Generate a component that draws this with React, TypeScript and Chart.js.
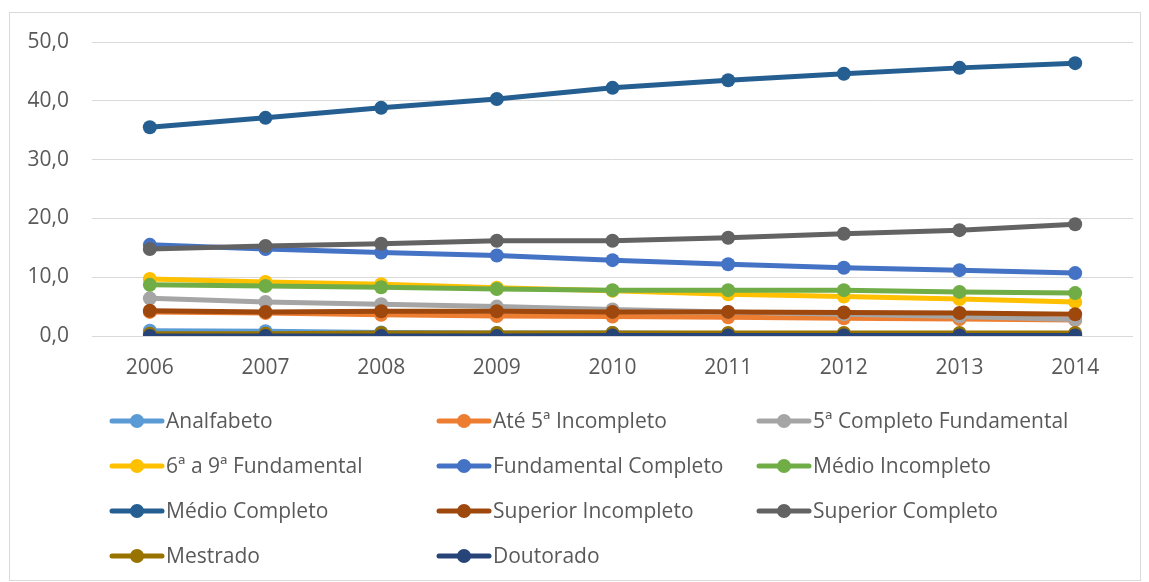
import React, { useEffect, useRef } from "react";
import { Chart, registerables } from "chart.js";

Chart.register(...registerables);

const years = ["2006", "2007", "2008", "2009", "2010", "2011", "2012", "2013", "2014"];

const analfabeto = [0.9, 0.8, 0.6, 0.5, 0.5, 0.4, 0.4, 0.4, 0.3];
const ate5Incompleto = [4.1, 3.9, 3.6, 3.4, 3.3, 3.2, 3.0, 2.9, 2.7];
const quintaCompleto = [6.4, 5.8, 5.4, 5.0, 4.5, 4.1, 3.7, 3.3, 2.8];
const sextaNona = [9.7, 9.2, 8.8, 8.2, 7.7, 7.1, 6.7, 6.3, 5.8];
const fundamentalCompleto = [15.5, 14.8, 14.2, 13.7, 12.9, 12.2, 11.6, 11.2, 10.7];
const medioIncompleto = [8.7, 8.5, 8.3, 8.0, 7.8, 7.8, 7.8, 7.5, 7.3];
const medioCompleto = [35.5, 37.1, 38.8, 40.3, 42.2, 43.5, 44.6, 45.6, 46.4];
const superiorIncompleto = [4.3, 4.1, 4.2, 4.2, 4.1, 4.1, 4.0, 3.9, 3.7];
const superiorCompleto = [14.8, 15.3, 15.7, 16.2, 16.2, 16.7, 17.4, 18.0, 19.0];
const mestrado = [0.4, 0.4, 0.5, 0.5, 0.5, 0.5, 0.5, 0.5, 0.5];
const doutorado = [0.0, 0.0, 0.0, 0.0, 0.1, 0.1, 0.1, 0.1, 0.1];

const seriesNames = [
  "Analfabeto",
  "Até 5ª Incompleto",
  "5ª Completo Fundamental",
  "6ª a 9ª Fundamental",
  "Fundamental Completo",
  "Médio Incompleto",
  "Médio Completo",
  "Superior Incompleto",
  "Superior Completo",
  "Mestrado",
  "Doutorado",
];
const seriesValues = [
  analfabeto,
  ate5Incompleto,
  quintaCompleto,
  sextaNona,
  fundamentalCompleto,
  medioIncompleto,
  medioCompleto,
  superiorIncompleto,
  superiorCompleto,
  mestrado,
  doutorado,
];
const seriesColors = [
  "#5B9BD5",
  "#ED7D31",
  "#A5A5A5",
  "#FFC000",
  "#4472C4",
  "#70AD47",
  "#255E91",
  "#9E480E",
  "#636363",
  "#997300",
  "#264478",
];

const FONT = "'Open Sans', Lato, sans-serif";
const TEXT = "#595959";

const legendPlugin = {
  id: "gridLegend",
  afterDraw(chart: any) {
    const ctx = chart.ctx;
    const colX = [100, 427, 747];
    const rowY = [408, 453, 498, 543];
    ctx.save();
    ctx.font = `21px ${FONT}`;
    ctx.textBaseline = "middle";
    ctx.textAlign = "left";
    chart.data.datasets.forEach((ds: any, i: number) => {
      const col = i % 3;
      const row = Math.floor(i / 3);
      const x = colX[col];
      const y = rowY[row];
      ctx.strokeStyle = ds.borderColor;
      ctx.lineWidth = 5;
      ctx.lineCap = "round";
      ctx.beginPath();
      ctx.moveTo(x + 2, y);
      ctx.lineTo(x + 52, y);
      ctx.stroke();
      ctx.fillStyle = ds.borderColor;
      ctx.beginPath();
      ctx.arc(x + 27, y, 7, 0, Math.PI * 2);
      ctx.fill();
      ctx.fillStyle = TEXT;
      ctx.fillText(ds.label, x + 56, y + 1);
    });
    ctx.restore();
  },
};

export default function App() {
  const ref = useRef<HTMLCanvasElement | null>(null);
  useEffect(() => {
    if (!ref.current) return;
    const chart = new Chart(ref.current, {
      type: "line",
      data: {
        labels: years,
        datasets: seriesNames.map((name, i) => ({
          label: name,
          data: seriesValues[i],
          borderColor: seriesColors[i],
          backgroundColor: seriesColors[i],
          borderWidth: 5,
          pointRadius: 7,
          pointHoverRadius: 7,
          pointBorderWidth: 0,
          tension: 0,
          order: seriesNames.length - i,
        })),
      },
      options: {
        animation: false,
        responsive: false,
        maintainAspectRatio: false,
        layout: { autoPadding: false, padding: { left: 0, right: 7, top: 29, bottom: 0 } },
        plugins: {
          legend: { display: false },
          tooltip: { enabled: false },
        },
        scales: {
          x: {
            offset: true,
            grid: { display: false, drawTicks: false },
            border: { display: false },
            ticks: { color: TEXT, font: { family: FONT, size: 21 }, padding: 19 },
            afterFit(scale: any) {
              scale.height = 244;
              scale.paddingLeft = 0;
              scale.paddingRight = 0;
            },
          },
          y: {
            min: 0,
            max: 50,
            grid: { color: "#d9d9d9", lineWidth: 1, drawTicks: false },
            border: { display: false },
            ticks: {
              stepSize: 10,
              color: TEXT,
              padding: 23,
              font: { family: FONT, size: 21 },
              callback: (v: any) => Number(v).toFixed(1).replace(".", ","),
            },
            afterFit(scale: any) {
              scale.width = 82;
              scale.paddingTop = 0;
              scale.paddingBottom = 0;
            },
          },
        },
      },
      plugins: [legendPlugin],
    });
    return () => chart.destroy();
  }, []);
  return (
    <div
      style={{
        marginTop: 4,
        marginLeft: 1,
        width: 1130,
        height: 567,
        border: "1px solid #d9d9d9",
        background: "#fff",
      }}
    >
      <canvas ref={ref} width={1130} height={567} style={{ display: "block" }} />
    </div>
  );
}
